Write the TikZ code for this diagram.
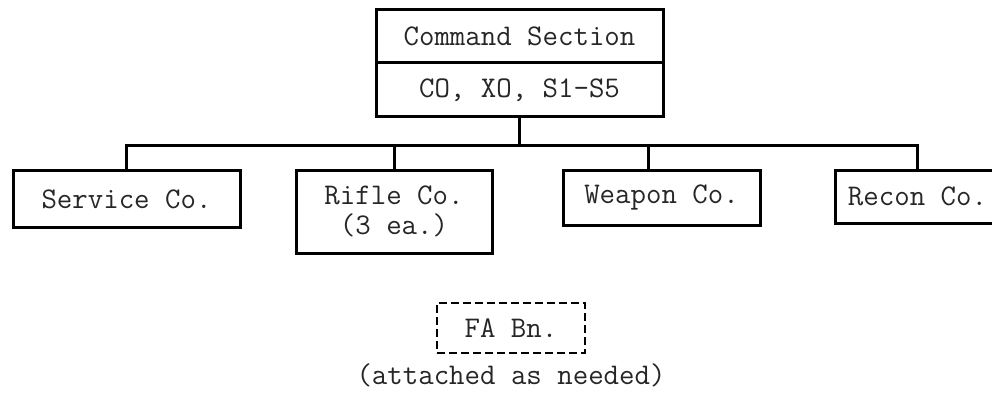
\documentclass[tikz,border=0pt]{standalone}
\usepackage{xcolor}
\usepackage{tikz}
\usetikzlibrary{positioning}

\begin{document}
\begin{tikzpicture}[x=1pt,y=-1pt,
    unit/.style={draw, line width=3pt, inner sep=0pt, align=center,
        font=\fontsize{30}{33}\selectfont\ttfamily, text=black!85},
    attach/.style={unit, line width=2pt, dash pattern=on 8pt off 4pt},
    link/.style={line width=3pt}]

\useasboundingbox (0,0) rectangle (992,393);

% command section
\node[unit, minimum width=287pt, minimum height=53pt] (cmd) at (519.5,36.5) {Command Section};
\node[unit, minimum width=287pt, minimum height=54pt] (staff) at (519.5,90) {CO, XO, S1-S5};

% companies
\node[unit, minimum width=227pt, minimum height=57pt] (svc) at (126.5,199) {Service Co.};
\node[unit, minimum width=196pt, minimum height=83pt] (rifle) at (394,211.5) {Rifle Co.\\[-3pt](3 ea.)};
\node[unit, minimum width=197pt, minimum height=55pt] (weapon) at (661.5,197.5) {Weapon Co.};
\node[unit, minimum width=165pt, minimum height=53pt] (recon) at (917.5,196.5) {Recon Co.};

\coordinate (bus) at (519.5,145);
\draw[link] (staff.south) -- (bus);
\draw[link] (svc.north) |- (bus) -| (recon.north);
\draw[link] (rifle.north) -- (rifle.north |- bus);
\draw[link] ([xshift=-13pt]weapon.north) -- ([xshift=-13pt]weapon.north |- bus);

% attached
\node[attach, minimum width=148pt, minimum height=50pt] (fa) at (511,328) {FA Bn.};
\node[font=\fontsize{30}{33}\selectfont\ttfamily, text=black!85, below=9pt of fa, inner sep=0pt] (note) {(attached as needed)};

\end{tikzpicture}
\end{document}
